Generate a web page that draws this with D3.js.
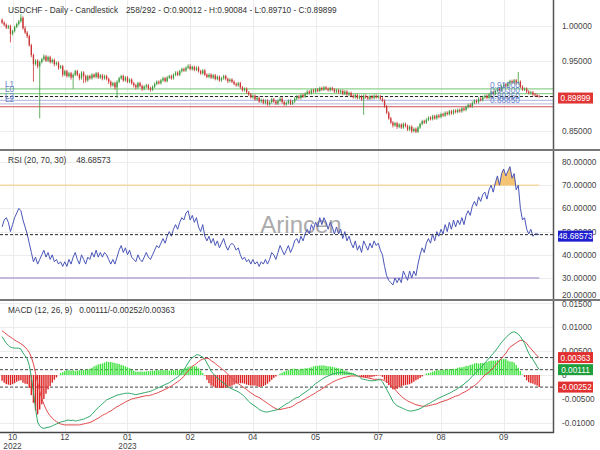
<!DOCTYPE html>
<html><head><meta charset="utf-8">
<script src="https://cdn.jsdelivr.net/npm/d3@7"></script>
<style>body{margin:0;background:#fff}svg{display:block;font-family:"Liberation Sans",Arial,sans-serif}</style>
</head><body><svg id="c" width="600" height="450"></svg>
<script>
const opens = [
1.008,1.004,1.001,0.997,0.999,0.988,0.992,0.998,1.002,1.006,
1.011,0.996,0.990,0.985,0.972,0.958,0.945,0.950,0.942,0.948,
0.952,0.956,0.950,0.955,0.948,0.951,0.945,0.947,0.940,0.942,
0.930,0.935,0.928,0.932,0.926,0.930,0.935,0.930,0.925,0.933,
0.928,0.922,0.928,0.925,0.930,0.927,0.932,0.926,0.929,0.925,
0.928,0.924,0.920,0.915,0.918,0.912,0.920,0.925,0.928,0.922,
0.926,0.920,0.923,0.918,0.915,0.912,0.918,0.914,0.910,0.913,
0.915,0.911,0.909,0.913,0.917,0.920,0.918,0.922,0.925,0.921,
0.926,0.928,0.925,0.930,0.933,0.930,0.935,0.938,0.936,0.940,
0.942,0.938,0.941,0.937,0.940,0.935,0.932,0.936,0.930,0.927,
0.930,0.926,0.929,0.924,0.927,0.922,0.925,0.928,0.924,0.921,
0.923,0.920,0.917,0.915,0.918,0.912,0.908,0.910,0.905,0.902,
0.898,0.900,0.895,0.897,0.892,0.894,0.890,0.893,0.888,0.891,
0.895,0.892,0.889,0.893,0.896,0.891,0.888,0.890,0.893,0.889,
0.892,0.896,0.899,0.897,0.901,0.899,0.903,0.906,0.904,0.908,
0.906,0.909,0.907,0.911,0.909,0.912,0.910,0.908,0.911,0.909,
0.906,0.908,0.905,0.907,0.903,0.906,0.902,0.904,0.900,0.898,
0.901,0.897,0.899,0.895,0.900,0.898,0.896,0.899,0.897,0.900,
0.898,0.899,0.896,0.893,0.885,0.876,0.868,0.862,0.858,0.861,
0.856,0.859,0.855,0.860,0.857,0.852,0.856,0.850,0.853,0.849,
0.855,0.860,0.864,0.862,0.866,0.869,0.867,0.871,0.868,0.872,
0.870,0.874,0.872,0.876,0.874,0.878,0.875,0.879,0.877,0.880,
0.878,0.882,0.880,0.884,0.887,0.885,0.890,0.893,0.891,0.896,
0.894,0.898,0.900,0.897,0.902,0.905,0.903,0.907,0.910,0.908,
0.913,0.916,0.914,0.918,0.921,0.919,0.922,0.918,0.920,0.913,
0.909,0.910,0.906,0.904,0.905,0.902,0.901,0.90012];
const highs = [
1.010,1.006,1.003,1.001,1.001,0.994,1.000,1.004,1.008,1.016,
1.013,0.999,0.992,0.987,0.974,0.960,0.952,0.952,0.950,0.954,
0.959,0.958,0.957,0.957,0.953,0.953,0.949,0.949,0.944,0.944,
0.937,0.937,0.934,0.934,0.932,0.937,0.937,0.932,0.935,0.935,
0.930,0.930,0.930,0.932,0.932,0.934,0.934,0.931,0.931,0.930,
0.930,0.926,0.922,0.920,0.920,0.922,0.927,0.930,0.930,0.928,
0.928,0.925,0.925,0.920,0.917,0.920,0.920,0.916,0.915,0.917,
0.917,0.913,0.915,0.919,0.922,0.922,0.924,0.927,0.927,0.928,
0.930,0.930,0.932,0.935,0.935,0.937,0.940,0.940,0.942,0.945,
0.945,0.943,0.943,0.942,0.942,0.937,0.938,0.938,0.932,0.932,
0.932,0.931,0.931,0.929,0.929,0.927,0.930,0.930,0.926,0.925,
0.925,0.922,0.919,0.920,0.920,0.914,0.912,0.912,0.907,0.904,
0.902,0.902,0.899,0.899,0.896,0.896,0.895,0.895,0.893,0.897,
0.897,0.894,0.895,0.898,0.898,0.893,0.892,0.895,0.895,0.894,
0.898,0.901,0.901,0.903,0.903,0.905,0.908,0.908,0.910,0.910,
0.911,0.911,0.913,0.913,0.914,0.914,0.912,0.913,0.913,0.911,
0.910,0.910,0.909,0.909,0.908,0.908,0.906,0.906,0.902,0.903,
0.903,0.901,0.901,0.902,0.902,0.900,0.901,0.901,0.902,0.902,
0.901,0.901,0.898,0.895,0.887,0.878,0.870,0.864,0.863,0.863,
0.861,0.861,0.862,0.862,0.859,0.858,0.858,0.855,0.855,0.857,
0.862,0.866,0.866,0.868,0.871,0.871,0.873,0.873,0.874,0.874,
0.876,0.876,0.878,0.878,0.880,0.880,0.881,0.881,0.882,0.882,
0.884,0.884,0.886,0.889,0.889,0.892,0.895,0.895,0.898,0.898,
0.900,0.902,0.902,0.904,0.907,0.907,0.909,0.912,0.912,0.915,
0.918,0.918,0.920,0.923,0.923,0.924,0.924,0.934,0.922,0.915,
0.912,0.912,0.908,0.907,0.907,0.904,0.903,0.90084];
const lows = [
1.002,0.999,0.995,0.995,0.976,0.986,0.990,0.996,1.000,1.004,
0.994,0.988,0.982,0.970,0.955,0.920,0.943,0.939,0.868,0.946,
0.950,0.948,0.948,0.946,0.946,0.942,0.943,0.937,0.938,0.927,
0.928,0.926,0.926,0.923,0.910,0.928,0.928,0.922,0.923,0.918,
0.919,0.920,0.923,0.923,0.925,0.925,0.924,0.924,0.922,0.923,
0.922,0.917,0.912,0.913,0.909,0.897,0.918,0.923,0.920,0.920,
0.918,0.918,0.916,0.912,0.909,0.910,0.912,0.907,0.908,0.911,
0.908,0.906,0.907,0.911,0.915,0.916,0.916,0.920,0.919,0.919,
0.924,0.923,0.923,0.928,0.928,0.928,0.933,0.934,0.934,0.938,
0.936,0.936,0.935,0.935,0.933,0.930,0.930,0.928,0.925,0.925,
0.924,0.924,0.922,0.922,0.920,0.920,0.923,0.922,0.918,0.919,
0.918,0.915,0.913,0.913,0.910,0.906,0.906,0.903,0.900,0.896,
0.896,0.893,0.893,0.890,0.890,0.888,0.888,0.886,0.886,0.889,
0.890,0.887,0.887,0.891,0.889,0.886,0.886,0.888,0.887,0.887,
0.890,0.894,0.895,0.895,0.897,0.897,0.901,0.902,0.902,0.904,
0.904,0.905,0.905,0.907,0.907,0.908,0.906,0.906,0.907,0.904,
0.904,0.903,0.903,0.901,0.901,0.900,0.900,0.898,0.896,0.896,
0.895,0.895,0.893,0.873,0.896,0.894,0.894,0.895,0.895,0.896,
0.896,0.894,0.891,0.883,0.874,0.866,0.860,0.855,0.856,0.853,
0.854,0.853,0.853,0.855,0.850,0.850,0.847,0.848,0.847,0.847,
0.853,0.858,0.860,0.860,0.864,0.865,0.865,0.866,0.866,0.868,
0.868,0.870,0.870,0.872,0.872,0.873,0.873,0.875,0.875,0.876,
0.876,0.878,0.878,0.882,0.883,0.883,0.888,0.889,0.889,0.892,
0.892,0.896,0.895,0.895,0.900,0.901,0.901,0.905,0.906,0.906,
0.911,0.912,0.912,0.916,0.917,0.917,0.916,0.916,0.911,0.907,
0.907,0.904,0.902,0.902,0.900,0.899,0.898,0.89710];
const closes = [
1.004,1.001,0.997,0.999,0.988,0.992,0.998,1.002,1.006,1.011,
0.996,0.990,0.985,0.972,0.958,0.945,0.950,0.942,0.948,0.952,
0.956,0.950,0.955,0.948,0.951,0.945,0.947,0.940,0.942,0.930,
0.935,0.928,0.932,0.926,0.930,0.935,0.930,0.925,0.933,0.928,
0.922,0.928,0.925,0.930,0.927,0.932,0.926,0.929,0.925,0.928,
0.924,0.920,0.915,0.918,0.912,0.920,0.925,0.928,0.922,0.926,
0.920,0.923,0.918,0.915,0.912,0.918,0.914,0.910,0.913,0.915,
0.911,0.909,0.913,0.917,0.920,0.918,0.922,0.925,0.921,0.926,
0.928,0.925,0.930,0.933,0.930,0.935,0.938,0.936,0.940,0.942,
0.938,0.941,0.937,0.940,0.935,0.932,0.936,0.930,0.927,0.930,
0.926,0.929,0.924,0.927,0.922,0.925,0.928,0.924,0.921,0.923,
0.920,0.917,0.915,0.918,0.912,0.908,0.910,0.905,0.902,0.898,
0.900,0.895,0.897,0.892,0.894,0.890,0.893,0.888,0.891,0.895,
0.892,0.889,0.893,0.896,0.891,0.888,0.890,0.893,0.889,0.892,
0.896,0.899,0.897,0.901,0.899,0.903,0.906,0.904,0.908,0.906,
0.909,0.907,0.911,0.909,0.912,0.910,0.908,0.911,0.909,0.906,
0.908,0.905,0.907,0.903,0.906,0.902,0.904,0.900,0.898,0.901,
0.897,0.899,0.895,0.900,0.898,0.896,0.899,0.897,0.900,0.898,
0.899,0.896,0.893,0.885,0.876,0.868,0.862,0.858,0.861,0.856,
0.859,0.855,0.860,0.857,0.852,0.856,0.850,0.853,0.849,0.855,
0.860,0.864,0.862,0.866,0.869,0.867,0.871,0.868,0.872,0.870,
0.874,0.872,0.876,0.874,0.878,0.875,0.879,0.877,0.880,0.878,
0.882,0.880,0.884,0.887,0.885,0.890,0.893,0.891,0.896,0.894,
0.898,0.900,0.897,0.902,0.905,0.903,0.907,0.910,0.908,0.913,
0.916,0.914,0.918,0.921,0.919,0.922,0.918,0.920,0.913,0.909,
0.910,0.906,0.904,0.905,0.902,0.901,0.900,0.89899];

const rsi = [
52,55,56,54,50,53,56,58,60,59,
55,52,49,45,41,37,39,36,38,40,
42,39,41,38,40,37,38,36,37,35,
37,35,38,36,39,41,38,36,40,38,
36,39,38,41,39,42,39,41,39,41,
40,38,36,38,36,39,42,44,41,43,
40,42,39,38,37,40,38,37,39,41,
39,38,40,42,44,43,45,47,45,48,
50,48,51,53,51,54,56,55,58,59,
55,57,54,56,52,50,53,48,46,48,
45,47,44,46,43,45,47,44,42,44,
45,44,42,43,40,38,39,37,38,36,
38,36,37,35,37,36,38,36,38,41,
40,38,41,44,42,40,42,44,41,43,
46,47,45,48,46,49,51,49,53,51,
54,52,56,53,56,54,51,54,52,49,
52,49,51,47,50,46,48,45,43,46,
42,44,41,46,44,42,45,43,46,44,
45,42,40,35,31,29,28,27,30,28,
30,28,33,31,29,33,30,33,31,36,
40,43,41,45,47,45,49,46,50,48,
51,49,53,50,54,51,55,52,55,53,
56,53,57,59,57,61,63,61,65,63,
66,67,64,68,70,67,71,74,70,75,
77,74,76,78,73,75,68,70,60,55,
56,51,49,51,48,49,49,48.68573];

const macd = [
.0080,.0073,.0066,.0062,.0058,.0057,.0056,.0056,.0056,.0054,
.0046,.0040,.0034,.0020,-.0005,-.0035,-.0070,-.0098,-.0106,-.0110,
-.0111,-.0110,-.0109,-.0108,-.0106,-.0104,-.0102,-.0100,-.0098,-.0097,
-.0096,-.0094,-.0094,-.0095,-.0094,-.0096,-.0095,-.0094,-.0093,-.0092,
-.0090,-.0088,-.0086,-.0082,-.0077,-.0072,-.0068,-.0064,-.0060,-.0056,
-.0052,-.0050,-.0048,-.0046,-.0044,-.0042,-.0041,-.0040,-.0039,-.0038,
-.0038,-.0038,-.0039,-.0040,-.0041,-.0040,-.0039,-.0038,-.0037,-.0036,
-.0035,-.0034,-.0032,-.0030,-.0028,-.0026,-.0024,-.0022,-.0020,-.0018,
-.0016,-.0013,-.0010,-.0007,-.0004,.0000,.0005,.0010,.0018,.0025,
.0032,.0036,.0039,.0042,.0042,.0040,.0037,.0033,.0025,.0017,
.0008,.0003,-.0002,-.0006,-.0010,-.0014,-.0017,-.0020,-.0024,-.0027,
-.0029,-.0031,-.0033,-.0035,-.0038,-.0041,-.0045,-.0050,-.0055,-.0059,
-.0062,-.0065,-.0068,-.0072,-.0074,-.0076,-.0077,-.0077,-.0076,-.0075,
-.0074,-.0073,-.0072,-.0069,-.0066,-.0063,-.0060,-.0058,-.0055,-.0052,
-.0049,-.0047,-.0046,-.0042,-.0039,-.0036,-.0033,-.0030,-.0026,-.0022,
-.0018,-.0015,-.0012,-.0009,-.0006,-.0004,-.0002,.0000,.0002,.0003,
.0004,.0005,.0005,.0005,.0004,.0004,.0003,.0003,.0002,.0000,
-.0002,-.0004,-.0008,-.0009,-.0010,-.0011,-.0012,-.0012,-.0012,-.0011,
-.0010,-.0010,-.0014,-.0022,-.0030,-.0038,-.0046,-.0055,-.0060,-.0064,
-.0066,-.0068,-.0070,-.0072,-.0074,-.0075,-.0075,-.0074,-.0073,-.0072,
-.0070,-.0068,-.0065,-.0062,-.0060,-.0058,-.0055,-.0053,-.0050,-.0048,
-.0046,-.0044,-.0042,-.0040,-.0038,-.0036,-.0033,-.0031,-.0028,-.0025,
-.0022,-.0019,-.0015,-.0012,-.0007,-.0003,.0002,.0006,.0010,.0015,
.0020,.0025,.0030,.0035,.0040,.0045,.0050,.0056,.0062,.0068,
.0073,.0078,.0082,.0086,.0089,.0090,.0088,.0085,.0080,.0073,
.0066,.0055,.0045,.0038,.0032,.0025,.0018,.00111];

const signal = [
.0092,.0089,.0085,.0082,.0079,.0076,.0073,.0070,.0068,.0065,
.0062,.0058,.0053,.0047,.0037,.0023,.0004,-.0016,-.0034,-.0049,
-.0061,-.0071,-.0079,-.0085,-.0090,-.0094,-.0097,-.0100,-.0102,-.0103,
-.0104,-.0104,-.0104,-.0104,-.0104,-.0104,-.0104,-.0104,-.0103,-.0102,
-.0101,-.0100,-.0099,-.0097,-.0095,-.0092,-.0090,-.0087,-.0084,-.0082,
-.0080,-.0077,-.0075,-.0072,-.0069,-.0066,-.0064,-.0061,-.0059,-.0056,
-.0054,-.0052,-.0050,-.0049,-.0048,-.0047,-.0046,-.0045,-.0044,-.0043,
-.0043,-.0042,-.0041,-.0039,-.0038,-.0036,-.0034,-.0032,-.0030,-.0028,
-.0025,-.0023,-.0020,-.0017,-.0014,-.0011,-.0007,-.0003,.0004,.0008,
.0014,.0018,.0021,.0024,.0028,.0031,.0033,.0034,.0035,.0034,
.0030,.0027,.0024,.0020,.0017,.0013,.0010,.0006,.0002,-.0003,
-.0007,-.0011,-.0015,-.0018,-.0021,-.0024,-.0027,-.0030,-.0034,-.0037,
-.0040,-.0043,-.0045,-.0047,-.0050,-.0053,-.0056,-.0059,-.0062,-.0065,
-.0068,-.0070,-.0072,-.0072,-.0071,-.0070,-.0069,-.0068,-.0067,-.0065,
-.0062,-.0059,-.0057,-.0055,-.0052,-.0050,-.0047,-.0045,-.0042,-.0040,
-.0037,-.0034,-.0032,-.0029,-.0026,-.0023,-.0020,-.0018,-.0015,-.0013,
-.0011,-.0009,-.0008,-.0006,-.0005,-.0004,-.0003,-.0002,-.0002,-.0002,
-.0002,-.0003,-.0003,-.0004,-.0005,-.0006,-.0007,-.0008,-.0009,-.0009,
-.0009,-.0009,-.0010,-.0012,-.0014,-.0017,-.0021,-.0025,-.0030,-.0035,
-.0040,-.0044,-.0048,-.0051,-.0054,-.0056,-.0058,-.0060,-.0062,-.0063,
-.0064,-.0065,-.0065,-.0065,-.0064,-.0063,-.0062,-.0061,-.0060,-.0058,
-.0056,-.0055,-.0053,-.0052,-.0050,-.0048,-.0046,-.0044,-.0043,-.0041,
-.0038,-.0036,-.0034,-.0031,-.0028,-.0025,-.0022,-.0019,-.0014,-.0010,
-.0005,.0000,.0003,.0006,.0010,.0015,.0020,.0025,.0030,.0035,
.0040,.0045,.0052,.0058,.0061,.0064,.0067,.0070,.0072,.0072,
.0070,.0066,.0060,.0055,.0050,.0045,.0040,.00363];

const tickBars = [5, 30, 60, 90, 120, 150, 180, 210, 240];
const tickLabels = [["10","2022"],["12"],["01","2023"],["02"],["04"],["05"],["07"],["08"],["09"]];
const priceTicks = [0.85, 0.90, 0.95, 1.00];
const rsiTicks = [20, 30, 40, 50, 60, 70, 80];
const macdTicks = [-0.01, -0.005, 0, 0.005, 0.01, 0.015];
const levelNames = ["L1", "L0", "L3", "L2"];
const levelValues = [0.9100, 0.9030, 0.8935, 0.8885];
const levelColors = ["#8fd18f", "#8fd18f", "#b9c3e6", "#c9c3e0"];
const supportLine = 0.8845;
const headerName = "USDCHF - Daily - Candlestick";
const headerValues = "258/292 - O:0.90012 - H:0.90084 - L:0.89710 - C:0.89899";
const rsiName = "RSI (20, 70, 30)", rsiValueText = "48.68573";
const macdName = "MACD (12, 26, 9)", macdValueText = "0.00111/-0.00252/0.00363";
const lastClose = 0.89899, lastRsi = 48.68573, lastMacd = 0.00111, lastSignal = 0.00363, lastHist = -0.00252;

const FS = 8.25;
const svg = d3.select("#c");
const plotR = 553, bottom = 432;
const n = closes.length;
const x = d3.scaleLinear().domain([-1, 263.6]).range([0, plotR]);
const P = [{t:0,b:150},{t:150,b:300},{t:300,b:bottom}];
const yP = d3.scaleLinear().domain([0.85, 1.0]).range([131, 25.5]);
const yR = d3.scaleLinear().domain([30, 80]).range([278, 162]);
const yM = d3.scaleLinear().domain([-0.01, 0.01]).range([423, 327]);
const hist = macd.map((m,i)=>m - signal[i]);

const defs = svg.append("defs");
P.forEach((p,k)=>defs.append("clipPath").attr("id","clip"+k).append("rect").attr("x",0).attr("y",p.t).attr("width",plotR).attr("height",p.b-p.t));

// grid
const grid = svg.append("g").attr("stroke","#ececec").attr("stroke-width",1);
tickBars.forEach(b=>grid.append("line").attr("x1",Math.round(x(b))+0.5).attr("x2",Math.round(x(b))+0.5).attr("y1",0).attr("y2",bottom));
const addH=(ticks,sc,k)=>ticks.forEach(v=>{const yy=sc(v); if(yy>P[k].t&&yy<P[k].b) grid.append("line").attr("x1",0).attr("x2",plotR).attr("y1",Math.round(yy)+0.5).attr("y2",Math.round(yy)+0.5);});
addH(priceTicks,yP,0); addH(rsiTicks,yR,1); addH(macdTicks,yM,2);

// watermark
svg.append("text").attr("x",301).attr("y",233).attr("text-anchor","middle").attr("font-size",24).attr("fill","#888").attr("opacity",0.7).text("Arincen");

// ---- price panel
const g1 = svg.append("g").attr("clip-path","url(#clip0)");
levelValues.forEach((v,i)=>{
  g1.append("line").attr("x1",0).attr("x2",plotR).attr("y1",yP(v)).attr("y2",yP(v)).attr("stroke",levelColors[i]).attr("stroke-width",1.2);
});
g1.append("line").attr("x1",0).attr("x2",plotR).attr("y1",yP(supportLine)).attr("y2",yP(supportLine)).attr("stroke","#d05050").attr("stroke-width",1.2);
g1.append("line").attr("x1",0).attr("x2",plotR).attr("y1",yP(lastClose)).attr("y2",yP(lastClose)).attr("stroke","#222").attr("stroke-dasharray","3,2");
const bw = 1.3;
closes.forEach((c,i)=>{
  const up = c >= opens[i];
  const col = up ? "#3d9a3d" : "#cc3333";
  const cx = x(i);
  g1.append("line").attr("x1",cx).attr("x2",cx).attr("y1",yP(highs[i])).attr("y2",yP(lows[i])).attr("stroke",col).attr("stroke-width",0.8);
  const y0 = yP(Math.max(c,opens[i])), y1 = yP(Math.min(c,opens[i]));
  g1.append("rect").attr("x",cx-bw/2).attr("y",y0).attr("width",bw).attr("height",Math.max(0.8,y1-y0)).attr("fill",col);
});
levelNames.forEach((nm,i)=>{
  svg.append("text").attr("x",5).attr("y",yP(levelValues[i])-1.5).attr("font-size",FS).attr("fill","#6a86c8").text(nm);
  svg.append("text").attr("x",490).attr("y",yP(levelValues[i])-1).attr("font-size",FS).attr("fill","#6a86c8").text(levelValues[i].toFixed(5));
});

// ---- RSI panel
const g2 = svg.append("g").attr("clip-path","url(#clip1)");
g2.append("line").attr("x1",0).attr("x2",x(n-1)).attr("y1",yR(70)).attr("y2",yR(70)).attr("stroke","#f3d9a4").attr("stroke-width",1.5);
g2.append("line").attr("x1",0).attr("x2",x(n-1)).attr("y1",yR(30)).attr("y2",yR(30)).attr("stroke","#b4a4d4").attr("stroke-width",1.5);
g2.append("path").datum(rsi).attr("fill","#f5c374")
  .attr("d",d3.area().x((d,i)=>x(i)).y0(yR(70)).y1(d=>yR(Math.max(d,70))));
g2.append("path").datum(rsi).attr("fill","none").attr("stroke","#4a56b8").attr("stroke-width",1)
  .attr("d",d3.line().x((d,i)=>x(i)).y(d=>yR(d)));
g2.append("line").attr("x1",0).attr("x2",plotR).attr("y1",yR(lastRsi)).attr("y2",yR(lastRsi)).attr("stroke","#222").attr("stroke-dasharray","3,2");

// ---- MACD panel
const g3 = svg.append("g").attr("clip-path","url(#clip2)");
[lastSignal,lastMacd,lastHist].forEach(v=>g3.append("line").attr("x1",0).attr("x2",plotR).attr("y1",yM(v)).attr("y2",yM(v)).attr("stroke","#444").attr("stroke-dasharray","3,2"));
hist.forEach((h,i)=>{
  g3.append("rect").attr("x",x(i)-0.7).attr("width",1.4)
    .attr("y",Math.min(yM(0),yM(h))).attr("height",Math.abs(yM(h)-yM(0)))
    .attr("fill",h>=0?"#3ee23e":"#dd2222");
});
g3.append("path").datum(signal).attr("fill","none").attr("stroke","#e04848").attr("stroke-width",1)
  .attr("d",d3.line().x((d,i)=>x(i)).y(d=>yM(d)));
g3.append("path").datum(macd).attr("fill","none").attr("stroke","#2fa868").attr("stroke-width",1)
  .attr("d",d3.line().x((d,i)=>x(i)).y(d=>yM(d)));

// frames
svg.append("line").attr("x1",plotR+0.5).attr("x2",plotR+0.5).attr("y1",0).attr("y2",bottom+1).attr("stroke","#555").attr("stroke-width",1.5);
[150,300].forEach(yy=>svg.append("line").attr("x1",0).attr("x2",600).attr("y1",yy).attr("y2",yy).attr("stroke","#777").attr("stroke-width",2));
svg.append("line").attr("x1",0).attr("x2",plotR+1).attr("y1",bottom+0.5).attr("y2",bottom+0.5).attr("stroke","#444").attr("stroke-width",1.5);

// right axis labels
const axText=(v,yy,fmt)=>svg.append("text").attr("x",562).attr("y",yy+3).attr("font-size",FS).attr("fill","#444").text(fmt(v));
priceTicks.forEach(v=>axText(v,yP(v),d=>d.toFixed(5)));
rsiTicks.forEach(v=>axText(v,Math.min(yR(v),295),d=>d.toFixed(5)));
macdTicks.forEach(v=>axText(v,Math.max(yM(v),304),d=>d===0?"0":d.toFixed(5)));

// value badges
const badge=(txt,yy,bg)=>{svg.append("rect").attr("x",558).attr("y",yy-5.5).attr("width",35).attr("height",11).attr("fill",bg);
  svg.append("text").attr("x",575.5).attr("y",yy+3).attr("text-anchor","middle").attr("font-size",FS).attr("fill","#fff").text(txt);};
badge(lastClose.toFixed(5),yP(lastClose)+1.5,"#e03535");
badge(lastRsi.toFixed(5),yR(lastRsi)+1.5,"#1f1fd0");
badge(lastSignal.toFixed(5),yM(lastSignal),"#e03030");
badge(lastMacd.toFixed(5),yM(lastMacd),"#1f9e3e");
badge(lastHist.toFixed(5),yM(lastHist),"#e03030");

// bottom axis
tickBars.forEach((b,k)=>{
  tickLabels[k].forEach((t,j)=>svg.append("text").attr("x",x(b)).attr("y",440+j*8.5).attr("text-anchor","middle").attr("font-size",FS).attr("fill","#444").text(t));
});

// titles
const title=(a,b,yy,gap)=>{const t=svg.append("text").attr("x",8).attr("y",yy).attr("font-size",FS).attr("fill","#333").text(a);
  const w=t.node().getComputedTextLength();
  svg.append("text").attr("x",8+w+gap).attr("y",yy).attr("font-size",FS).attr("fill","#333").text(b);};
title(headerName,headerValues,13,8);
title(rsiName,rsiValueText,163,10);
title(macdName,macdValueText,313,7);
</script></body></html>
